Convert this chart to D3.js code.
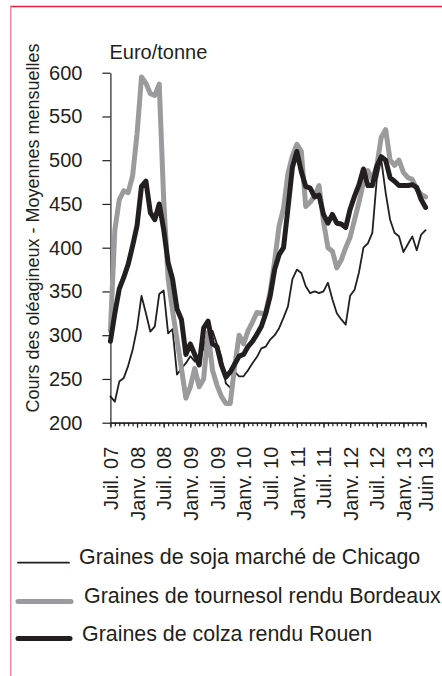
<!DOCTYPE html>
<html>
<head>
<meta charset="utf-8">
<script src="https://cdn.jsdelivr.net/npm/d3@7"></script>
<style>
    body { margin: 0; background: #fff; }
    svg text { font-family: "Liberation Sans", Arial, sans-serif; fill: #231f20; }
</style>
</head>
<body>
<div id="drawing_region"></div>
<script>
// monthly averages, Juil. 2007 -> Juin 2013 (euro / tonne)
const soja = [
    230, 224, 247, 251, 265, 283, 308, 345, 325, 304,
    310, 347, 351, 302, 307, 255, 262, 268, 276, 270,
    275, 285, 305, 305, 290, 275, 245, 240, 258, 253,
    253, 260, 268, 275, 285, 287, 295, 300, 308, 320,
    333, 364, 375, 371, 356, 348, 350, 348, 350, 360,
    341, 325, 318, 312, 345, 352, 372, 400, 405, 417,
    478, 501, 463, 432, 417, 413, 395, 404, 413, 397,
    415, 420
];
const tournesol = [
    305, 420, 455, 465, 463, 482, 530, 595, 588, 576,
    574, 587, 455, 365, 328, 295, 262, 228, 241, 262,
    241, 250, 303, 260, 243, 230, 222, 222, 265, 300,
    290, 305, 315, 326, 325, 326, 350, 385, 425, 445,
    485, 505, 518, 510, 447, 452, 459, 471, 430, 400,
    396, 377, 386, 400, 412, 432, 452, 475, 488, 478,
    493, 526, 535, 500, 494, 500, 486, 480, 478, 467,
    461, 458
];
const colza = [
    293, 325, 353, 366, 381, 402, 425, 470, 476, 440,
    432, 450, 421, 383, 364, 330, 318, 278, 290, 278,
    266, 308, 316, 290, 287, 266, 252, 258, 267, 276,
    278, 287, 293, 301, 310, 325, 345, 375, 392, 400,
    445, 492, 510, 487, 470, 468, 458, 460, 438, 428,
    438, 428, 427, 423, 444, 459, 472, 490, 471, 471,
    493, 504, 500, 480, 476, 471, 471, 471, 472, 469,
    455, 446
];

const tickKeys = ["2007-07", "2008-01", "2008-07", "2009-01", "2009-07", "2010-01", "2010-07",
    "2011-01", "2011-07", "2012-01", "2012-07", "2013-01", "2013-06"];
const tickLabels = ["Juil. 07", "Janv. 08", "Juil. 08", "Janv. 09", "Juil. 09", "Janv. 10", "Juil. 10",
    "Janv. 11", "Juil. 11", "Janv. 12", "Juil. 12", "Janv. 13", "Juin 13"];
const yTicks = [200, 250, 300, 350, 400, 450, 500, 550, 600];

const series = [
    { name: "Graines de soja marché de Chicago", values: soja, color: "#231f20", width: 1.8 },
    { name: "Graines de tournesol rendu Bordeaux", values: tournesol, color: "#9b9b9d", width: 5 },
    { name: "Graines de colza rendu Rouen", values: colza, color: "#231f20", width: 5 }
];

const fmt = d3.timeFormat("%Y-%m");
const months = d3.timeMonth.range(new Date(2007, 6, 1), new Date(2013, 6, 1)).map(fmt);

const width = 442, height = 676;
const plot = { left: 110.4, right: 425.6, top: 72.7, bottom: 422.7 };

const svg = d3.select("#drawing_region").append("svg")
    .attr("width", width)
    .attr("height", height);

// frame
svg.append("line").attr("x1", 10).attr("x2", width).attr("y1", 6.5).attr("y2", 6.5)
    .attr("stroke", "#ea1f3f").attr("stroke-width", 1.4);
svg.append("line").attr("x1", 10.7).attr("x2", 10.7).attr("y1", 6).attr("y2", height)
    .attr("stroke", "#f08595").attr("stroke-width", 1.4);

const xscale = d3.scalePoint().domain(months).range([plot.left, plot.right]);
const yscale = d3.scaleLinear().domain([200, 600]).range([plot.bottom, plot.top]);

// y axis
const yaxis_group = svg.append("g")
    .attr("transform", `translate(${plot.left}, 0)`)
    .call(d3.axisLeft(yscale).tickValues(yTicks).tickSize(8).tickPadding(20).tickSizeOuter(0));
yaxis_group.selectAll("text").style("font-size", "20px");

// x axis: monthly minor ticks, labelled ticks every six months
svg.append("g")
    .attr("transform", `translate(0, ${plot.bottom})`)
    .call(d3.axisBottom(xscale).tickValues(months).tickSize(3.5).tickFormat("").tickSizeOuter(0));

const xaxis_group = svg.append("g")
    .attr("transform", `translate(0, ${plot.bottom})`)
    .call(d3.axisBottom(xscale).tickValues(tickKeys).tickSize(5).tickSizeOuter(0)
        .tickFormat((d, i) => tickLabels[i]));
xaxis_group.selectAll("text")
    .style("font-size", "20px")
    .attr("text-anchor", "end")
    .attr("transform", "rotate(-90)")
    .attr("x", -24)
    .attr("y", 0)
    .attr("dy", "0.36em");

svg.selectAll(".domain, .tick line").attr("stroke", "#231f20").attr("stroke-width", 1.2);

// lines
const line = d3.line()
    .x((d, i) => xscale(months[i]))
    .y(d => yscale(d));

svg.append("g").selectAll("path")
    .data(series)
    .join("path")
    .attr("d", d => line(d.values))
    .attr("fill", "none")
    .attr("stroke", d => d.color)
    .attr("stroke-width", d => d.width)
    .attr("stroke-linejoin", "round")
    .attr("stroke-linecap", "round");

// titles
svg.append("text")
    .attr("x", 109.5).attr("y", 58.5)
    .style("font-size", "20px")
    .text("Euro/tonne");

svg.append("text")
    .attr("transform", "translate(33, 228) rotate(-90)")
    .attr("text-anchor", "middle")
    .attr("dy", "0.36em")
    .style("font-size", "18px")
    .text("Cours des oléagineux - Moyennes mensuelles");

// legend
const legendRows = [
    { y: 562.7, x1: 18, x2: 69, tx: 79, ty: 564 },
    { y: 601.5, x1: 18, x2: 71, tx: 84, ty: 603 },
    { y: 638.5, x1: 18, x2: 70, tx: 82, ty: 641 }
];
const legend = svg.append("g").selectAll("g")
    .data(series)
    .join("g");
legend.append("line")
    .attr("x1", (d, i) => legendRows[i].x1)
    .attr("x2", (d, i) => legendRows[i].x2)
    .attr("y1", (d, i) => legendRows[i].y)
    .attr("y2", (d, i) => legendRows[i].y)
    .attr("stroke", d => d.color)
    .attr("stroke-width", d => d.width)
    .attr("stroke-linecap", "round");
legend.append("text")
    .attr("x", (d, i) => legendRows[i].tx)
    .attr("y", (d, i) => legendRows[i].ty)
    .style("font-size", "21.4px")
    .text(d => d.name);
</script>
</body>
</html>
